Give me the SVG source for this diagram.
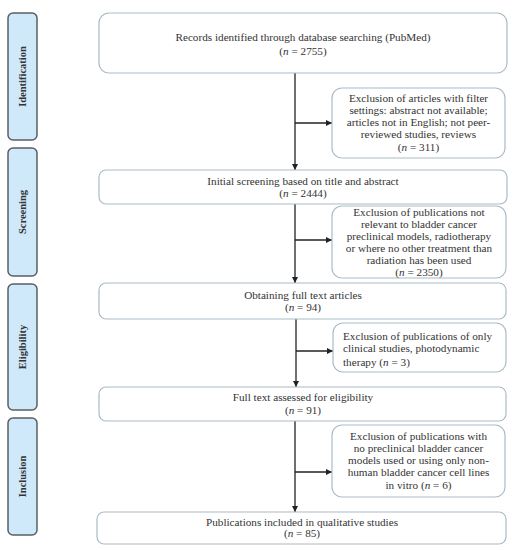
<svg xmlns="http://www.w3.org/2000/svg" width="516" height="550" viewBox="0 0 516 550">
<defs>
<marker id="ah" viewBox="0 0 10 10" refX="10" refY="5" markerWidth="6" markerHeight="6" orient="auto" markerUnits="userSpaceOnUse"><path d="M0,0 L10,5 L0,10 z" fill="#222"/></marker>
</defs>
<style>
.side{fill:#cfe9fb;stroke:#5a5f63;stroke-width:1.5}
.box{fill:#fff;stroke:#a9bcc6;stroke-width:1.2}
.t{font-family:"Liberation Serif","DejaVu Serif",serif;font-size:11.2px;fill:#333;text-anchor:middle}
.tl{font-family:"Liberation Serif","DejaVu Serif",serif;font-size:11.2px;fill:#333;text-anchor:start}
.st{font-family:"Liberation Serif","DejaVu Serif",serif;font-size:10.5px;font-weight:bold;fill:#333;text-anchor:middle}
.ln{stroke:#222;stroke-width:1.3;fill:none}
</style>
<rect width="516" height="550" fill="#fff"/>
<g id="side-identification"><rect class="side" x="8" y="13" width="29" height="127" rx="5"/><text class="st" transform="translate(26,76.5) rotate(-90)">Identification</text></g>
<g id="side-screening"><rect class="side" x="8" y="148" width="29" height="128" rx="5"/><text class="st" transform="translate(26,212) rotate(-90)">Screening</text></g>
<g id="side-eligibility"><rect class="side" x="8" y="284" width="29" height="126" rx="5"/><text class="st" transform="translate(26,347) rotate(-90)">Eligibility</text></g>
<g id="side-inclusion"><rect class="side" x="8" y="418" width="29" height="117" rx="5"/><text class="st" transform="translate(26,476.5) rotate(-90)">Inclusion</text></g>

<g id="connectors">
<line class="ln" x1="295" y1="73" x2="295" y2="170" marker-end="url(#ah)"/>
<line class="ln" x1="295" y1="123" x2="332" y2="123" marker-end="url(#ah)"/>
<line class="ln" x1="295" y1="204" x2="295" y2="283" marker-end="url(#ah)"/>
<line class="ln" x1="295" y1="240" x2="332" y2="240" marker-end="url(#ah)"/>
<line class="ln" x1="296" y1="319" x2="296" y2="387" marker-end="url(#ah)"/>
<line class="ln" x1="296" y1="351" x2="333" y2="351" marker-end="url(#ah)"/>
<line class="ln" x1="295" y1="421" x2="295" y2="512" marker-end="url(#ah)"/>
<line class="ln" x1="295" y1="472" x2="332" y2="472" marker-end="url(#ah)"/>
</g>

<g id="records"><rect class="box" x="99" y="13" width="408" height="60" rx="10"/>
<text class="t" x="303" y="41">Records identified through database searching (PubMed)</text>
<text class="t" x="303" y="55">(<tspan font-style="italic">n</tspan> = 2755)</text></g>

<g id="excl1"><rect class="box" x="332" y="88" width="173" height="70" rx="10"/>
<text class="t" x="418.5" y="101.5">Exclusion of articles with filter</text>
<text class="t" x="418.5" y="113.8">settings: abstract not available;</text>
<text class="t" x="418.5" y="126.1">articles not in English; not peer-</text>
<text class="t" x="418.5" y="138.4">reviewed studies, reviews</text>
<text class="t" x="418.5" y="150.7">(<tspan font-style="italic">n</tspan> = 311)</text></g>

<g id="screening"><rect class="box" x="99" y="170" width="408" height="34" rx="7"/>
<text class="t" x="303" y="184.5">Initial screening based on title and abstract</text>
<text class="t" x="303" y="196.5">(<tspan font-style="italic">n</tspan> = 2444)</text></g>

<g id="excl2"><rect class="box" x="332" y="206" width="174" height="72" rx="10"/>
<text class="t" x="419" y="215.5">Exclusion of publications not</text>
<text class="t" x="419" y="227.5">relevant to bladder cancer</text>
<text class="t" x="419" y="239.5">preclinical models,  radiotherapy</text>
<text class="t" x="419" y="251.5">or where no other treatment than</text>
<text class="t" x="419" y="263.5">radiation has been used</text>
<text class="t" x="419" y="276">(<tspan font-style="italic">n</tspan> = 2350)</text></g>

<g id="fulltext"><rect class="box" x="99" y="283" width="407" height="36" rx="7"/>
<text class="t" x="303" y="298.5">Obtaining full text articles</text>
<text class="t" x="303" y="310.5">(<tspan font-style="italic">n</tspan> = 94)</text></g>

<g id="excl3"><rect class="box" x="333" y="323" width="173" height="49" rx="10"/>
<text class="tl" x="343" y="339.5">Exclusion of  publications of only</text>
<text class="tl" x="343" y="351.5">clinical studies, photodynamic</text>
<text class="tl" x="343" y="366">therapy (<tspan font-style="italic">n</tspan> = 3)</text></g>

<g id="eligibility"><rect class="box" x="99" y="387" width="407" height="34" rx="7"/>
<text class="t" x="303" y="400.5">Full text assessed for eligibility</text>
<text class="t" x="303" y="414">(<tspan font-style="italic">n</tspan> = 91)</text></g>

<g id="excl4"><rect class="box" x="332" y="425" width="173" height="72" rx="10"/>
<text class="t" x="418.5" y="439.5">Exclusion of publications with</text>
<text class="t" x="418.5" y="451.5">no preclinical bladder cancer</text>
<text class="t" x="418.5" y="463.5">models used or using only non-</text>
<text class="t" x="418.5" y="476">human bladder cancer cell lines</text>
<text class="t" x="418.5" y="489">in vitro (<tspan font-style="italic">n</tspan> = 6)</text></g>

<g id="included"><rect class="box" x="97" y="512" width="409" height="32" rx="7"/>
<text class="t" x="302" y="525.5">Publications included in qualitative studies</text>
<text class="t" x="302" y="537">(<tspan font-style="italic">n</tspan> = 85)</text></g>
</svg>
